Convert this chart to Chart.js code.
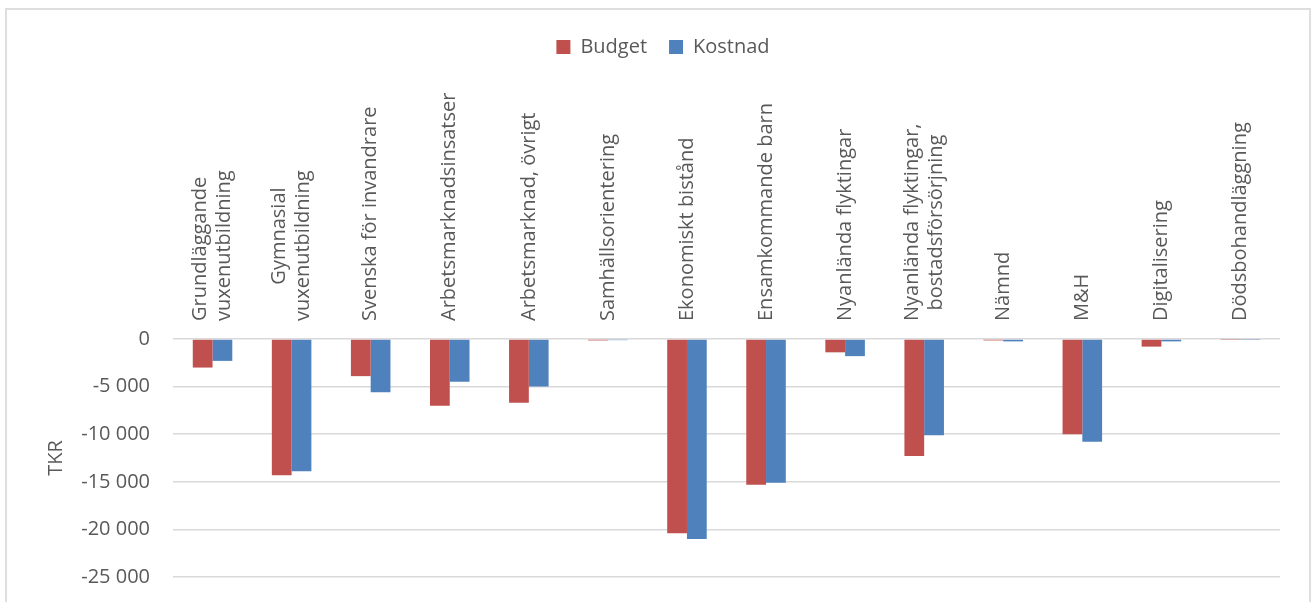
<!DOCTYPE html>
<html>
<head>
<meta charset="utf-8">
<script src="https://cdn.jsdelivr.net/npm/chart.js@4"></script>
<style>
  html, body { margin: 0; padding: 0; background: #fff; }
  #wrap { position: relative; width: 1313px; height: 602px; overflow: hidden; }
  #frame { position: absolute; left: 5px; top: 8px; width: 1302px; height: 640px; border: 2px solid #dedede; pointer-events: none; }
</style>
</head>
<body>
<div id="wrap">
  <canvas id="barChart" width="1313" height="602"></canvas>
  <div id="frame"></div>
</div>
<script>
// leading spaces center the shorter line of a two-line label like Excel does
const categories = [
  ['Grundläggande', 'vuxenutbildning'],
  ['       Gymnasial', 'vuxenutbildning'],
  'Svenska för invandrare',
  'Arbetsmarknadsinsatser',
  'Arbetsmarknad, övrigt',
  'Samhällsorientering',
  'Ekonomiskt bistånd',
  'Ensamkommande barn',
  'Nyanlända flyktingar',
  ['Nyanlända flyktingar,', '  bostadsförsörjning'],
  'Nämnd',
  'M&H',
  'Digitalisering',
  'Dödsbohandläggning'
];
const budget  = [-3000, -14300, -3900, -7000, -6700, -150, -20400, -15300, -1400, -12300, -150, -10000, -800, -40];
const kostnad = [-2300, -13900, -5600, -4500, -5000, -120, -21000, -15100, -1800, -10100, -250, -10800, -250, -40];
const yTicks = [0, -5000, -10000, -15000, -20000, -25000];

const textColor = '#595959';
const fontFamily = '"Open Sans", sans-serif';

function fmt(v) {
  const s = Math.abs(v).toString().replace(/\B(?=(\d{3})+(?!\d))/g, ' ');
  return (v < 0 ? '-' : '') + s;
}

// rotated labels sit left of the tick in chart.js, so the line height
// is used to center single and two-line labels on their category
function tickFont(c) {
  const lbl = categories[c.index];
  const multi = Array.isArray(lbl);
  return { family: fontFamily, size: 20, lineHeight: multi ? '24px' : '36px' };
}

const ctx = document.getElementById('barChart');
new Chart(ctx, {
  type: 'bar',
  data: {
    labels: categories,
    datasets: [
      { label: 'Budget', data: budget, backgroundColor: '#C0504D', borderWidth: 0 },
      { label: 'Kostnad', data: kostnad, backgroundColor: '#4F81BD', borderWidth: 0 }
    ]
  },
  options: {
    responsive: false,
    animation: false,
    layout: { padding: { top: 15, right: 33, bottom: 25, left: 46 } },
    datasets: { bar: { categoryPercentage: 0.5, barPercentage: 1.0 } },
    scales: {
      x: {
        position: 'top',
        grid: { display: false, drawTicks: false },
        border: { display: false },
        ticks: {
          minRotation: 90,
          maxRotation: 90,
          autoSkip: false,
          padding: 18,
          labelOffset: 36,
          color: textColor,
          font: tickFont
        },
        afterFit: function(scale) { scale.height = 272; }
      },
      y: {
        min: -25000,
        max: 0,
        afterBuildTicks: function(scale) { scale.ticks = yTicks.map(v => ({ value: v })); },
        grid: { color: '#d9d9d9', lineWidth: 1.5, drawTicks: false },
        border: { display: false },
        ticks: {
          padding: 23,
          color: textColor,
          font: { family: fontFamily, size: 20 },
          callback: function(v) { return fmt(v); }
        },
        title: {
          display: true,
          text: 'TKR',
          color: textColor,
          font: { family: fontFamily, size: 20 },
          padding: { top: -2, bottom: 0 }
        },
        afterFit: function(scale) {
          scale.width = 127;
          scale.paddingTop = 0;
          scale.paddingBottom = 0;
        }
      }
    },
    plugins: {
      legend: {
        position: 'top',
        labels: {
          boxWidth: 14,
          boxHeight: 14,
          padding: 22,
          color: textColor,
          font: { family: fontFamily, size: 20 }
        }
      },
      tooltip: { enabled: false }
    }
  }
});
</script>
</body>
</html>
